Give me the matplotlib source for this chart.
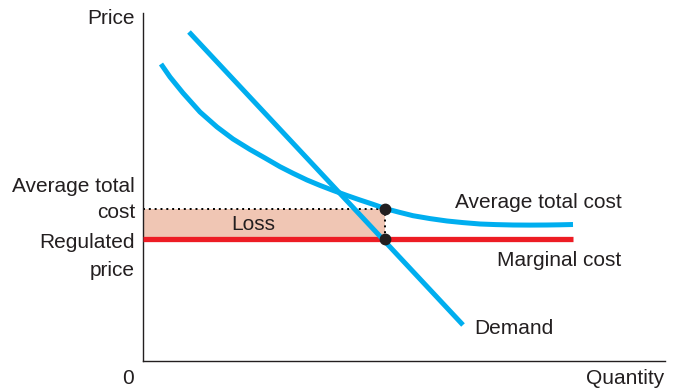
import matplotlib
matplotlib.use("Agg")
import matplotlib.pyplot as plt

plt.rcParams["font.family"] = ["Liberation Sans", "DejaVu Sans"]

# curves, in chart units (quantity, price)
demand_q = [46, 320]
demand_p = [329, 36]

atc_q = [18, 27, 40, 57, 74, 90, 107, 122, 137, 150, 164, 177, 190, 204, 217, 230,
         242, 256, 270, 287, 304, 320, 337, 353, 370, 387, 404, 417, 430]
atc_p = [297, 284, 268, 249, 234, 222, 211.5, 203, 194.3, 187.7, 181, 175.6, 170.6,
         165.5, 161, 156.7, 152.5, 148.8, 145.3, 142.4, 140, 138.4, 137, 136.4, 136,
         135.9, 136, 136.2, 136.5]

mc_q = [0, 430]
mc_p = [122, 122]

# regulated outcome
reg_q = 242
reg_price = 122
reg_atc = 152

BLUE = "#00aeef"
RED = "#ed1c24"
TXT = "#231f20"
FS = 15

fig = plt.figure(figsize=(6.74, 3.88), dpi=100)
ax = fig.add_axes([143 / 674, 27 / 388, 522 / 674, 348 / 388])
ax.set_xlim(0, 522)
ax.set_ylim(0, 348)
for s in ("top", "right"):
    ax.spines[s].set_visible(False)
for s in ("left", "bottom"):
    ax.spines[s].set_color("#231f20")
    ax.spines[s].set_linewidth(1.0)
ax.set_xticks([])
ax.set_yticks([])

# loss rectangle
ax.fill_between([0, reg_q], reg_price, reg_atc, color="#f0c6b4", lw=0, zorder=1)
ax.plot([0, reg_q], [reg_atc, reg_atc], ls=(0, (1, 2)), color="black", lw=1.4, zorder=2)
ax.plot([reg_q, reg_q], [reg_price, reg_atc], ls=(0, (1, 2)), color="black", lw=1.4, zorder=2)

ax.plot(mc_q, mc_p, color=RED, lw=3.8, solid_capstyle="butt", zorder=3, clip_on=False)
ax.plot(atc_q, atc_p, color=BLUE, lw=3.6, solid_capstyle="butt", solid_joinstyle="round", zorder=4)
ax.plot(demand_q, demand_p, color=BLUE, lw=3.6, solid_capstyle="butt", zorder=4)

ax.plot([reg_q, reg_q], [reg_atc, reg_price], "o", color="#231f20", ms=7.5, zorder=5)

kw = dict(fontsize=FS, color=TXT, clip_on=False)
ax.text(-8, 342, "Price", ha="right", va="center", **kw)
ax.text(-8, 174, "Average total", ha="right", va="center", **kw)
ax.text(-8, 149, "cost", ha="right", va="center", **kw)
ax.text(-8, 118, "Regulated", ha="right", va="center", **kw)
ax.text(-8, 91, "price", ha="right", va="center", **kw)
ax.text(110, 136, "Loss", ha="center", va="center", **kw)
ax.text(312, 158, "Average total cost", ha="left", va="center", **kw)
ax.text(354, 100, "Marginal cost", ha="left", va="center", **kw)
ax.text(331, 32, "Demand", ha="left", va="center", **kw)
ax.text(-15, -18, "0", ha="center", va="center", **kw)
ax.text(521, -18, "Quantity", ha="right", va="center", **kw)

fig.savefig("out.png", dpi=100)
